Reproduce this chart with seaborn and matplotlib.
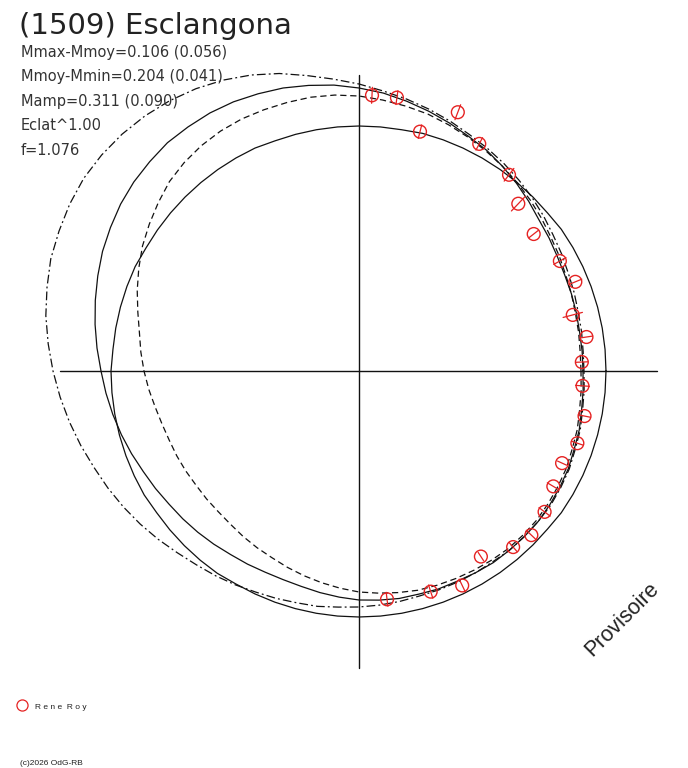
"""
Polar light curve of (1509) Esclangona: model curves + observed points.
Units are pixels from the centre of the diagram (y up).
"""

import numpy as np
import pandas as pd
import matplotlib
matplotlib.use("Agg")
import matplotlib.pyplot as plt
import seaborn as sns

sns.set_theme(style="white")
plt.rcParams["font.family"] = ["DejaVu Sans"]

# Colours
C_LINE = "#111111"
C_OBS = "#e52222"
C_TEXT = "#222222"

# Model curves: radius read every 5 degrees of phase angle (0..355)
ANGLES = list(range(0, 360, 5))
R_SOLID_CIRCLE = [247, 247, 247, 247, 247, 247, 247, 247,
                  246, 246, 246, 246, 246, 246, 246, 246,
                  245, 245, 245, 245, 245, 245, 245,
                  246, 246, 246, 246, 246, 246, 246, 246,
                  247, 247, 247, 247, 247,
                  248, 248, 248, 248, 248, 248, 248,
                  247, 247, 247, 247, 247,
                  246, 246, 246, 246, 246, 246, 246, 246, 246,
                  246, 246, 246, 246, 246, 246, 246, 246,
                  247, 247, 247, 247, 247, 247, 247]
R_SOLID = [224, 224, 224, 225, 226, 227, 229, 232, 235, 240,
           245, 250, 255, 259, 264, 269, 274, 279, 283, 287,
           290, 293, 295, 297, 298, 298, 298, 296, 294, 291,
           287, 283, 278, 273, 268, 263, 258, 254, 250, 246,
           242, 238, 235, 232, 230, 228, 226, 224, 223, 222,
           222, 223, 225, 227, 229, 230, 231, 231, 232, 232,
           233, 234, 234, 234, 234, 233, 232, 231, 229, 228,
           226, 225]
R_DASHED = [222, 222, 223, 224, 226, 228, 231, 234, 238, 242,
            246, 250, 254, 258, 262, 266, 269, 272, 275, 277,
            278, 278, 278, 278, 277, 275, 272, 268, 262, 256,
            250, 243, 236, 229, 223, 219, 215, 211, 207, 204,
            202, 201, 200, 199, 199, 199, 200, 202, 204, 206,
            209, 212, 215, 218, 221, 223, 225, 227, 228, 229,
            230, 231, 232, 232, 232, 231, 230, 229, 227, 226,
            224, 223]
R_DASHDOT = [225, 225, 226, 227, 229, 231, 234, 237, 241, 245,
             249, 253, 257, 261, 266, 271, 276, 281, 287, 293,
             300, 308, 315, 321, 326, 330, 333, 335, 336, 336,
             334, 331, 328, 323, 318, 312, 306, 300, 294, 288,
             282, 277, 272, 267, 262, 257, 253, 250, 247, 244,
             242, 240, 239, 237, 236, 235, 234, 233, 233, 233,
             233, 233, 234, 234, 234, 234, 233, 232, 230, 229,
             227, 226]

# Observations (Rene Roy): phase angle (deg), radius, error half-length
OBS_ANGLE = [87.3, 82.1, 69.1, 75.7, 62.1, 52.6, 46.4, 38.1, 28.7, 22.4,
             14.7, 8.5, 2.3, 356.2, 348.7, 341.7, 335.6, 329.3, 322.8, 316.4,
             311.2, 303.3, 295.7, 288.0, 277.0]
OBS_R = [276, 276, 277, 247, 257, 247, 231, 222, 229, 234,
         221, 230, 223, 224, 230, 230, 223, 226, 233, 238,
         234, 222, 238, 232, 230]
OBS_ERR = [8, 7, 8, 7, 7, 8, 10, 6, 7, 7,
           10, 6, 6, 7, 6, 6, 5, 7, 7, 7,
           6, 5, 7, 7, 7]

AXIS_HALF = 298

TITLE = "(1509) Esclangona"
INFO = ["Mmax-Mmoy=0.106 (0.056)",
        "Mmoy-Mmin=0.204 (0.041)",
        "Mamp=0.311 (0.090)",
        "Eclat^1.00",
        "f=1.076"]


def closed_curve(radii):
    th = np.deg2rad(ANGLES + ANGLES[:1])
    r = np.array(radii + radii[:1], dtype=float)
    return pd.DataFrame({"x": r * np.cos(th), "y": r * np.sin(th)})


W, H = 688, 768
fig = plt.figure(figsize=(W / 100, H / 100), dpi=100)
ax = fig.add_axes([0, 0, 1, 1])

# cross-hair axes
sns.lineplot(x=[-AXIS_HALF - 1, AXIS_HALF], y=[0, 0], color=C_LINE, lw=1.0,
             estimator=None, sort=False, ax=ax)
sns.lineplot(x=[0, 0], y=[AXIS_HALF - 2, -AXIS_HALF + 1], color=C_LINE, lw=1.0,
             estimator=None, sort=False, ax=ax)

curves = [
    (R_SOLID_CIRCLE, "-"),
    (R_SOLID, "-"),
    (R_DASHED, (0, (5, 3))),
    (R_DASHDOT, (0, (7, 2.5, 1.5, 2.5))),
]
for radii, ls in curves:
    d = closed_curve(radii)
    sns.lineplot(data=d, x="x", y="y", sort=False, estimator=None,
                 color=C_LINE, lw=0.9, linestyle=ls, ax=ax)

# observations with radial error bars
th = np.deg2rad(OBS_ANGLE)
r = np.array(OBS_R, dtype=float)
e = np.array(OBS_ERR, dtype=float)
obs = pd.DataFrame({"x": r * np.cos(th), "y": r * np.sin(th)})
n = len(r)
segs = pd.DataFrame({
    "x": np.concatenate([(r - e) * np.cos(th), (r + e) * np.cos(th)]),
    "y": np.concatenate([(r - e) * np.sin(th), (r + e) * np.sin(th)]),
    "pt": np.concatenate([np.arange(n), np.arange(n)]),
}).sort_values("pt", kind="stable")
sns.lineplot(data=segs, x="x", y="y", units="pt", estimator=None, sort=False,
             color=C_OBS, lw=0.9, ax=ax)
sns.scatterplot(data=obs, x="x", y="y", s=85, marker="o", facecolor="none",
                edgecolor=C_OBS, linewidth=1.0, zorder=5, ax=ax)

ax.set_xlim(-359, W - 359)
ax.set_ylim(-(H - 371), 371)
ax.axis("off")
if ax.get_legend() is not None:
    ax.get_legend().remove()


# texts (figure pixel positions)
def px(x, y):
    return x / W, 1 - y / H


fig.text(*px(19, 33.5), TITLE, fontsize=21, color=C_TEXT, va="baseline")
for i, line in enumerate(INFO):
    fig.text(*px(21, 57 + i * 24.4), line, fontsize=10.5, color="#333333",
             va="baseline")

fig.text(*px(622, 619), "Provisoire", fontsize=15.5, color=C_TEXT, rotation=45,
         ha="center", va="center", family="Liberation Sans")

# legend
fig.lines.append(plt.Line2D([22 / W], [1 - 705 / H], transform=fig.transFigure,
                            marker="o", ms=8, mfc="none", mec=C_OBS, mew=0.9, ls=""))
fig.text(*px(35, 709), "R e n e  R o y", fontsize=6, color=C_TEXT, va="baseline",
         family="Liberation Sans")
fig.text(*px(20, 765), "(c)2026 OdG-RB", fontsize=6, color=C_TEXT, va="baseline",
         family="Liberation Sans")

fig.savefig("out.png", dpi=100, facecolor="white")
